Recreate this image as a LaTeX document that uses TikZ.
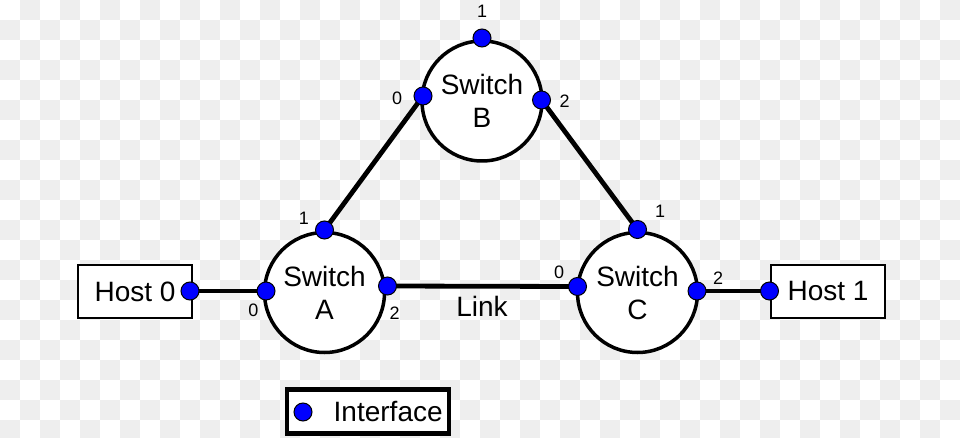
\documentclass[tikz,border=0pt]{standalone}
\usepackage{fontspec}
\setmainfont{Liberation Sans}
\usetikzlibrary{positioning, backgrounds}
\definecolor{IfBlue} {RGB}{0,0,255}
\definecolor{Checker}{RGB}{238,238,238}
\tikzset{
  % Switch = big white circle with two-line label
  switch/.style={
    circle, draw=black, fill=white, line width=3.5pt,
    minimum size=120pt, inner sep=0pt, align=center,
    font=\fontsize{28}{33}\selectfont
  },
  host/.style={
    rectangle, draw=black, fill=white, line width=2pt,
    minimum width=114pt, minimum height=53pt, inner sep=0pt,
    font=\fontsize{28}{33}\selectfont
  },
  % Interface dot sitting on a switch / host border
  iface/.style={circle, draw=black, fill=IfBlue, line width=1pt, minimum size=18pt, inner sep=0pt},
  num/.style={font=\fontsize{18}{20}\selectfont, inner sep=0pt},
  txt/.style={font=\fontsize{28}{33}\selectfont, inner sep=0pt},
  legend/.style={rectangle, draw=black, fill=white, line width=4.5pt, minimum width=162pt, minimum height=44pt, inner sep=0pt},
  link/.style={line width=4.8pt}
}

\begin{document}
\begin{tikzpicture}[x=1pt, y=-1pt]

  \clip (0,0) rectangle (960,438);

  %% ── Background checkerboard ──────────────────────────────────────────────
  \begin{scope}[on background layer]
    \foreach \j in {0,...,21} {
      \foreach \i in {0,...,23} {
        \fill[Checker] ({40*\i+20-20*mod(\j,2)},{20*\j}) rectangle ++(20,20);
      }
    }
  \end{scope}

  %% ── Switches and hosts ───────────────────────────────────────────────────
  \node[switch] (swB) at (482,101) {Switch\\B};
  \node[switch] (swA) at (324.5,292.5) {Switch\\A};
  \node[switch] (swC) at (637.5,292.5) {Switch\\C};

  \node[host] (h0) at (135,291.5) {Host 0};
  \node[host] (h1) at (828,291.5) {Host 1};

  %% ── Interfaces ───────────────────────────────────────────────────────────
  \node[iface] (b1) at (482,38) {};
  \node[iface] (b0) at (423,96) {};
  \node[iface] (b2) at (541.5,100) {};
  \node[iface] (a1) at (324.5,230) {};
  \node[iface] (a0) at (266,291) {};
  \node[iface] (a2) at (387.5,286) {};
  \node[iface] (c0) at (577.5,286.5) {};
  \node[iface] (c1) at (637.5,229.5) {};
  \node[iface] (c2) at (697,291) {};
  \node[iface] (h0i) at (190,291) {};
  \node[iface] (h1i) at (769.5,291) {};

  %% ── Links ────────────────────────────────────────────────────────────────
  \begin{scope}[on background layer]
    \draw[link] (a1.center) -- (b0.center);
    \draw[link] (b2.center) -- (c1.center);
    \draw[link] (a2.center) -- (c0.center);
    \draw[link] (h0i.center) -- (a0.center);
    \draw[link] (c2.center) -- (h1i.center);
  \end{scope}

  \node[txt] (lnk) at (482,306) {Link};

  %% ── Interface numbers ────────────────────────────────────────────────────
  \node[num] (nb1) at (482,11)  {1};
  \node[num] (nb0) at (397,98)  {0};
  \node[num] (nb2) at (564.5,101) {2};
  \node[num] (na1) at (304,218) {1};
  \node[num] (na0) at (253.5,310) {0};
  \node[num] (na2) at (394.5,313) {2};
  \node[num] (nc0) at (559,272) {0};
  \node[num] (nc1) at (660,211) {1};
  \node[num] (nc2) at (718,278) {2};

  %% ── Legend ───────────────────────────────────────────────────────────────
  \node[legend] (leg) at (368,411.5) {};
  \node[iface] (legdot) at (303,412) {};
  \node[txt, right=21pt of legdot] (legtxt) {Interface};

\end{tikzpicture}
\end{document}
